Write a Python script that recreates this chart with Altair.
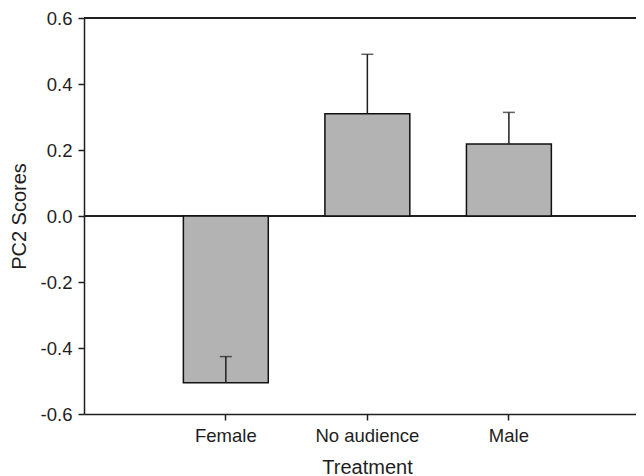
import altair as alt
import pandas as pd

treatments = ["Female", "No audience", "Male"]
means = [-0.505, 0.31, 0.218]
se = [0.079, 0.18, 0.096]
y_ticks = [-0.6, -0.4, -0.2, 0.0, 0.2, 0.4, 0.6]

df = pd.DataFrame({"Treatment": treatments, "mean": means, "se": se})
df["tip"] = df["mean"] + df["se"]

FONT = "Liberation Sans"
INK = "#1e1e1e"

xenc = alt.X(
    "Treatment:N",
    sort=treatments,
    scale=alt.Scale(paddingInner=0.4, paddingOuter=0.65, align=0.54),
    axis=alt.Axis(
        title="Treatment", labelAngle=0, labelPadding=6,
        titleX=283, titleY=59, titleBaseline="alphabetic", titleAlign="center",
        tickSize=6, domainColor=INK, tickColor=INK, domainWidth=1.5, tickWidth=1.5,
    ),
)
yscale = alt.Scale(domain=[-0.6, 0.6], nice=False, zero=False)
yenc = alt.Y(
    "mean:Q",
    scale=yscale,
    axis=alt.Axis(
        title="PC2 Scores", values=y_ticks, grid=False,
        labelExpr="replace(format(datum.value, '.1f'), '\u2212', '-')",
        tickSize=6, labelPadding=6,
        titleX=-59, titleY=198, titleAngle=-90, titleBaseline="alphabetic", titleAlign="center",
        domainColor=INK, tickColor=INK, domainWidth=1.5, tickWidth=1.5,
    ),
)

base = alt.Chart(df)

bars = base.mark_bar(color="#b3b3b3", stroke="#111111", strokeWidth=1.5).encode(
    x=xenc, y=yenc
)
err = base.mark_rule(color=INK, strokeWidth=1.5).encode(
    x=alt.X("Treatment:N", sort=treatments),
    y=alt.Y("mean:Q"),
    y2="tip:Q",
)
caps = base.mark_tick(color=INK, size=12, thickness=1.5, orient="horizontal").encode(
    x=alt.X("Treatment:N", sort=treatments),
    y=alt.Y("tip:Q"),
)
zero = base.mark_rule(color=INK, strokeWidth=1.5).encode(y=alt.datum(0.0))
top = base.mark_rule(color=INK, strokeWidth=1.5).encode(y=alt.datum(0.6))

chart = (
    alt.layer(zero, top, bars, err, caps)
    .properties(
        width=552,
        height=396,
        autosize=alt.AutoSizeParams(type="none"),
        padding={"left": 76, "top": 10, "right": 0, "bottom": 60},
    )
    .configure_view(stroke=None)
    .configure_axis(
        labelFont=FONT, titleFont=FONT, labelFontSize=18.5, titleFontSize=20,
        labelColor=INK, titleColor=INK, titleFontWeight="normal",
    )
)

chart.save("out.html", embed_options={"renderer": "svg", "actions": False})
